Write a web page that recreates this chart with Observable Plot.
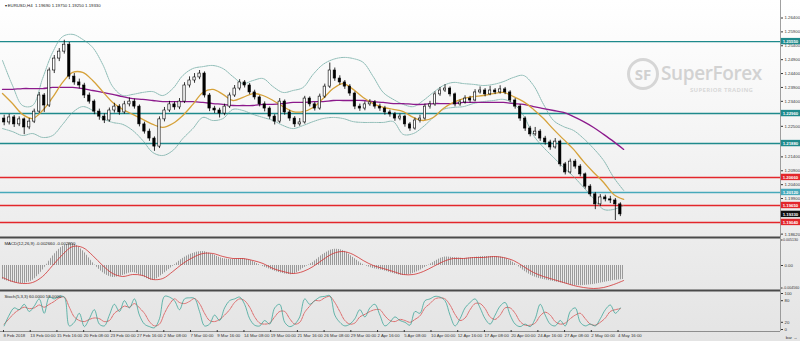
<!DOCTYPE html>
<html><head><meta charset="utf-8">
<script src="https://cdn.jsdelivr.net/npm/d3@7"></script>
<script src="https://cdn.jsdelivr.net/npm/@observablehq/plot@0.6"></script>
<style>
html,body{margin:0;padding:0;}
body{width:800px;height:341px;overflow:hidden;background:linear-gradient(#ffffff 0%,#f3f3f3 45%,#e4e4e4 100%);position:relative;font-family:"Liberation Sans",Arial,sans-serif;}
.abs{position:absolute;}
#main{left:0;top:0}
#macd{left:0;top:234px}
#stoch{left:0;top:291px}
#logo{left:627px;top:58px;width:26px;height:26px;border:3px solid #d6d6d6;border-radius:50%;color:#d0d0d0;font-weight:700;font-size:15px;line-height:26px;text-align:center;font-family:"Open Sans",sans-serif;}
#brand{left:661px;top:60px;color:#d2d2d2;font-size:19px;font-weight:600;font-family:"Open Sans",sans-serif;letter-spacing:-0.4px;}
#tag{left:690px;top:86px;color:#d8d8d8;font-size:6px;font-weight:700;font-family:"Open Sans",sans-serif;letter-spacing:0.3px;}
</style></head><body>
<div id="logo" class="abs">SF</div>
<div id="brand" class="abs">SuperForex</div>
<div id="tag" class="abs">SUPERIOR TRADING</div>
<div id="main" class="abs"></div>
<div id="macd" class="abs"></div>
<div id="stoch" class="abs"></div>
<script>
// ---------- DATA ----------
const firstOpen = 1.2278;
const candleClose = [1.2264,1.2282,1.2257,1.2275,1.2246,1.2267,1.2303,1.2361,1.2325,1.2451,
 1.2494,1.2519,1.2544,1.2429,1.2408,1.2397,1.2361,1.2339,1.2303,1.2285,
 1.2271,1.2307,1.2321,1.2300,1.2329,1.2339,1.2321,1.2257,1.2231,1.2206,
 1.2177,1.2275,1.2307,1.2329,1.2318,1.2339,1.2397,1.2415,1.2426,1.2440,
 1.2361,1.2314,1.2307,1.2296,1.2321,1.2361,1.2386,1.2408,1.2397,1.2372,
 1.2354,1.2329,1.2314,1.2285,1.2267,1.2339,1.2300,1.2278,1.2257,1.2264,
 1.2350,1.2329,1.2314,1.2357,1.2393,1.2451,1.2422,1.2408,1.2393,1.2368,
 1.2321,1.2314,1.2329,1.2336,1.2321,1.2314,1.2300,1.2293,1.2278,1.2285,
 1.2257,1.2242,1.2271,1.2278,1.2321,1.2329,1.2365,1.2379,1.2386,1.2365,
 1.2329,1.2336,1.2350,1.2343,1.2372,1.2379,1.2365,1.2379,1.2372,1.2383,
 1.2372,1.2343,1.2321,1.2278,1.2242,1.2221,1.2231,1.2206,1.2192,1.2174,
 1.2195,1.2113,1.2084,1.2123,1.2105,1.2077,1.2033,1.2005,1.1969,1.1994,
 1.1987,1.1983,1.1969,1.1933];
const candleHigh = [1.2290,1.2293,1.2289,1.2284,1.2280,1.2278,1.2312,1.2372,1.2368,1.2460,
 1.2505,1.2530,1.2560,1.2552,1.2440,1.2420,1.2405,1.2370,1.2345,1.2312,
 1.2295,1.2316,1.2333,1.2328,1.2340,1.2352,1.2348,1.2327,1.2265,1.2240,
 1.2212,1.2284,1.2318,1.2340,1.2337,1.2350,1.2407,1.2428,1.2440,1.2451,
 1.2446,1.2368,1.2322,1.2315,1.2330,1.2370,1.2397,1.2418,1.2415,1.2404,
 1.2380,1.2360,1.2338,1.2320,1.2292,1.2350,1.2345,1.2308,1.2285,1.2278,
 1.2358,1.2356,1.2336,1.2366,1.2402,1.2478,1.2460,1.2432,1.2415,1.2400,
 1.2374,1.2330,1.2338,1.2346,1.2343,1.2330,1.2322,1.2308,1.2300,1.2294,
 1.2290,1.2264,1.2280,1.2290,1.2330,1.2340,1.2374,1.2390,1.2400,1.2392,
 1.2370,1.2345,1.2360,1.2358,1.2382,1.2392,1.2386,1.2394,1.2386,1.2396,
 1.2390,1.2378,1.2350,1.2328,1.2284,1.2250,1.2246,1.2238,1.2214,1.2200,
 1.2206,1.2200,1.2120,1.2132,1.2130,1.2112,1.2082,1.2040,1.2012,1.2004,
 1.2002,1.1998,1.1990,1.1975];
const candleLow = [1.2252,1.2255,1.2246,1.2249,1.2220,1.2238,1.2260,1.2296,1.2300,1.2318,
 1.2440,1.2483,1.2510,1.2418,1.2398,1.2385,1.2350,1.2330,1.2292,1.2272,
 1.2260,1.2265,1.2298,1.2290,1.2294,1.2320,1.2312,1.2248,1.2222,1.2196,
 1.2160,1.2170,1.2266,1.2300,1.2308,1.2310,1.2332,1.2388,1.2405,1.2418,
 1.2352,1.2303,1.2296,1.2280,1.2288,1.2314,1.2354,1.2378,1.2388,1.2364,
 1.2345,1.2320,1.2302,1.2275,1.2255,1.2260,1.2290,1.2268,1.2246,1.2250,
 1.2258,1.2320,1.2305,1.2308,1.2350,1.2386,1.2412,1.2398,1.2383,1.2358,
 1.2310,1.2304,1.2306,1.2322,1.2312,1.2304,1.2290,1.2283,1.2268,1.2270,
 1.2247,1.2232,1.2236,1.2262,1.2272,1.2312,1.2322,1.2358,1.2372,1.2356,
 1.2320,1.2322,1.2330,1.2334,1.2338,1.2366,1.2356,1.2360,1.2364,1.2366,
 1.2364,1.2335,1.2312,1.2268,1.2232,1.2212,1.2214,1.2196,1.2182,1.2164,
 1.2168,1.2104,1.2075,1.2078,1.2096,1.2068,1.2024,1.1996,1.1950,1.1962,
 1.1978,1.1972,1.1911,1.1925];

// indicator lines, one value every 6 bars (bar 0, 6, 12, ...)
const maFast = [1.2368,1.2332,1.2293,1.2278,1.2307,1.2354,1.2408,1.2444,1.2444,1.2415,
 1.2375,1.2336,1.2311,1.2293,1.2275,1.2257,1.2246,1.2260,1.2289,1.2329,
 1.2372,1.2383,1.2365,1.2343,1.2354,1.2368,1.2361,1.2343,1.2321,1.2303,
 1.2303,1.2318,1.2350,1.2386,1.2404,1.2383,1.2354,1.2332,1.2318,1.2311,
 1.2303,1.2282,1.2271,1.2282,1.2314,1.2336,1.2350,1.2357,1.2361,1.2368,
 1.2372,1.2357,1.2339,1.2311,1.2278,1.2239,1.2203,1.2167,1.2123,1.2084,
 1.2048,1.2005,1.1987];
const maSlow = [1.2383,1.2383,1.2386,1.2386,1.2386,1.2390,1.2390,1.2390,1.2386,1.2379,
 1.2372,1.2365,1.2357,1.2350,1.2347,1.2343,1.2339,1.2339,1.2339,1.2339,
 1.2336,1.2332,1.2329,1.2325,1.2325,1.2325,1.2329,1.2329,1.2332,1.2336,
 1.2336,1.2339,1.2339,1.2343,1.2343,1.2343,1.2343,1.2339,1.2336,1.2332,
 1.2332,1.2329,1.2329,1.2332,1.2332,1.2332,1.2336,1.2336,1.2336,1.2336,
 1.2336,1.2332,1.2329,1.2321,1.2314,1.2307,1.2300,1.2285,1.2267,1.2246,
 1.2221,1.2195,1.2167];
const bbUpper = [1.2487,1.2397,1.2325,1.2325,1.2422,1.2516,1.2573,1.2581,1.2563,1.2534,
 1.2473,1.2393,1.2361,1.2365,1.2372,1.2375,1.2361,1.2386,1.2433,1.2458,
 1.2465,1.2469,1.2458,1.2429,1.2404,1.2415,1.2422,1.2393,1.2372,1.2379,
 1.2390,1.2437,1.2473,1.2491,1.2498,1.2494,1.2480,1.2429,1.2372,1.2347,
 1.2329,1.2321,1.2343,1.2372,1.2397,1.2408,1.2404,1.2401,1.2397,1.2401,
 1.2411,1.2426,1.2433,1.2397,1.2329,1.2271,1.2249,1.2235,1.2206,1.2170,
 1.2127,1.2066,1.2019];
const bbLower = [1.2242,1.2231,1.2217,1.2224,1.2210,1.2217,1.2257,1.2300,1.2321,1.2307,
 1.2278,1.2264,1.2257,1.2235,1.2199,1.2156,1.2145,1.2163,1.2206,1.2242,
 1.2282,1.2271,1.2278,1.2311,1.2307,1.2293,1.2282,1.2271,1.2253,1.2242,
 1.2253,1.2267,1.2278,1.2282,1.2278,1.2267,1.2264,1.2264,1.2264,1.2267,
 1.2221,1.2224,1.2249,1.2282,1.2311,1.2318,1.2321,1.2332,1.2339,1.2343,
 1.2347,1.2332,1.2289,1.2217,1.2174,1.2138,1.2102,1.2069,1.2030,1.1990,
 1.1951,1.1951,1.1965];
const macdMain = [-0.00266,-0.00323,-0.00342,-0.00285,-0.00095,0.00171,0.00361,0.00418,0.00285,0.00057,
 -0.00133,-0.00228,-0.00190,-0.00133,-0.00209,-0.00285,-0.00171,-0.00019,0.00133,0.00228,
 0.00266,0.00209,0.00133,0.00114,0.00133,0.00076,-0.00019,-0.00095,-0.00152,-0.00171,
 -0.00057,0.00057,0.00209,0.00304,0.00285,0.00152,0.00019,-0.00057,-0.00095,-0.00152,
 -0.00190,-0.00152,-0.00057,0.00057,0.00152,0.00152,0.00133,0.00152,0.00171,0.00171,
 0.00152,0.00057,-0.00095,-0.00209,-0.00266,-0.00304,-0.00342,-0.00380,-0.00380,-0.00361,
 -0.00323,-0.00285,-0.00266];
const macdSignal = [-0.00228,-0.00304,-0.00342,-0.00323,-0.00209,0.00000,0.00209,0.00361,0.00342,0.00190,
 0.00000,-0.00152,-0.00209,-0.00171,-0.00190,-0.00266,-0.00247,-0.00114,0.00038,0.00152,
 0.00228,0.00228,0.00171,0.00133,0.00133,0.00095,0.00038,-0.00057,-0.00114,-0.00152,
 -0.00114,-0.00019,0.00114,0.00228,0.00266,0.00209,0.00095,0.00000,-0.00057,-0.00114,
 -0.00171,-0.00171,-0.00114,-0.00019,0.00076,0.00133,0.00133,0.00152,0.00152,0.00171,
 0.00152,0.00095,-0.00019,-0.00133,-0.00209,-0.00266,-0.00323,-0.00380,-0.00418,-0.00437,
 -0.00418,-0.00361,-0.00285];
// stochastic, one value per candle
const stochMain = [10,40,60,55,70,50,65,85,45,90, 85,92,90,10,20,45,8,30,55,15,
 10,40,70,50,80,60,85,40,15,8, 5,30,92,90,80,55,85,88,86,50,
 10,15,40,25,60,80,85,90,70,30, 12,10,25,15,60,70,20,8,15,35,
 85,70,80,90,92,94,40,20,10,15, 30,55,35,60,70,40,10,20,35,25,
 20,12,50,45,80,85,92,90,80,40, 10,30,60,75,85,60,30,15,40,65,
 75,40,15,8,15,8,30,70,40,15, 10,25,10,50,60,20,10,15,10,30,
 55,68,45,60];
const stochSignal = [15,30,45,55,62,58,60,68,62,70, 78,88,90,62,35,25,22,28,32,30,
 22,25,45,55,65,62,72,60,45,22, 10,15,45,70,85,75,72,78,86,72,
 45,25,22,28,40,55,75,85,80,62, 35,18,15,18,35,50,50,30,15,20,
 48,65,80,80,88,92,75,50,25,15, 18,35,42,50,55,55,38,25,22,28,
 25,20,28,38,60,72,85,88,85,68, 42,25,32,55,72,72,58,35,28,40,
 60,60,45,22,12,12,18,38,48,40, 22,15,18,30,40,45,30,15,12,20,
 32,50,55,58];

const levelPrices = [1.2555,1.2296,1.2188,1.2066,1.2012,1.1965,1.1904];
const levelColors = ["#1f8a8c","#1f8a8c","#1f8a8c","#e3262b","#47a9ba","#e3262b","#e3262b"];
const priceTicks = [1.2640,1.2590,1.2540,1.2490,1.2440,1.2390,1.2340,1.2250,1.2140,1.2090,1.2040,1.1990,1.1862];
const macdTop = 0.00513, macdBottom = -0.00456;
const stochTicks = [0,20,80,100];
const timeTickBars = [0,16,32,48,64,80,96,112,128,144,160,176,192,208,224,240,256,272,288,304,320,336,352,368];
const timeTickLabels = ["8 Feb 2018","13 Feb 00:00","15 Feb 16:00","20 Feb 08:00","23 Feb 00:00","27 Feb 16:00","2 Mar 08:00","7 Mar 00:00","9 Mar 16:00","14 Mar 08:00","19 Mar 00:00","21 Mar 16:00","26 Mar 08:00","29 Mar 00:00","2 Apr 16:00","5 Apr 08:00","10 Apr 00:00","12 Apr 16:00","17 Apr 08:00","20 Apr 00:00","24 Apr 16:00","27 Apr 08:00","2 May 00:00","4 May 16:00"];
const titleMain = "\u25BE EURUSD,H4  1.19690 1.19750 1.19250 1.19330";
const titleMacd = "MACD(12,26,9) -0.002660 -0.002850";
const titleStoch = "Stoch(5,3,3) 60.0000 58.0000";

// ---------- TABLES ----------
const barsPerCandle = 3, barsPerLine = 6;
const candles = candleClose.map((c, i) => ({
  bar: i * barsPerCandle + 1,
  open: i ? candleClose[i - 1] : firstOpen,
  high: candleHigh[i], low: candleLow[i], close: c
}));
const lines = maFast.map((v, i) => ({bar: i * barsPerLine, fast: v, slow: maSlow[i], up: bbUpper[i], lo: bbLower[i], macd: macdMain[i], sig: macdSignal[i]}));
const stoch = stochMain.map((v, i) => ({bar: i * barsPerCandle + 1, main: v, sig: stochSignal[i]}));
const levels = levelPrices.map((p, i) => ({price: p, color: levelColors[i]}));
const last = candles[candles.length - 1];
const labelMap = new Map(timeTickBars.map((b, i) => [b, timeTickLabels[i]]));

const xDomain = [-1.2, 465.9];
const xEnd = xDomain[1];
const font = "Liberation Sans, Arial, sans-serif";
const style = {background: "transparent", fontFamily: font, fontSize: "4.3px", color: "#333", overflow: "visible"};
const boxH = 0.00115;

const main = Plot.plot({
  width: 800, height: 237, marginLeft: 0, marginRight: 20, marginTop: 8, marginBottom: 1,
  style,
  x: {domain: xDomain, axis: null},
  y: {domain: [1.18534, 1.26742], axis: "right", ticks: priceTicks, tickFormat: d => d.toFixed(5), tickSize: 2, tickPadding: 2},
  marks: [
    Plot.ruleY(levels, {y: "price", stroke: "color", strokeWidth: 1.4}),
    Plot.line(lines, {x: "bar", y: "up", stroke: "#5b9f96", strokeWidth: 0.7, strokeDasharray: "1.3,1", curve: "catmull-rom"}),
    Plot.line(lines, {x: "bar", y: "lo", stroke: "#5b9f96", strokeWidth: 0.7, strokeDasharray: "1.3,1", curve: "catmull-rom"}),
    Plot.line(lines, {x: "bar", y: "slow", stroke: "#8c1a8c", strokeWidth: 1.3, curve: "catmull-rom"}),
    Plot.line(lines, {x: "bar", y: "fast", stroke: "#d6a23a", strokeWidth: 1.3, curve: "catmull-rom"}),
    Plot.ruleX(candles, {x: "bar", y1: "low", y2: "high", stroke: "#000", strokeWidth: 0.8}),
    Plot.rect(candles, {x1: d => d.bar - 0.7, x2: d => d.bar + 0.7,
      y1: d => Math.min(d.open, d.close), y2: d => Math.max(d.open, d.close),
      fill: d => d.close > d.open ? "#ffffff" : "#000000", stroke: "#000", strokeWidth: 0.6}),
    Plot.ruleX([xEnd], {stroke: "#888", strokeWidth: 0.8, insetTop: -8, insetBottom: -1}),
    Plot.rect(levels, {x1: xEnd + 0.5, x2: xEnd + 12, y1: d => d.price - boxH, y2: d => d.price + boxH, fill: "color"}),
    Plot.text(levels, {x: xEnd + 1.3, y: "price", text: d => d.price.toFixed(5), fill: "#fff", textAnchor: "start", fontSize: 4.3, fontWeight: "bold"}),
    Plot.rect([last], {x1: xEnd + 0.5, x2: xEnd + 12, y1: d => d.close - boxH, y2: d => d.close + boxH, fill: "#111"}),
    Plot.text([last], {x: xEnd + 1.3, y: "close", text: d => d.close.toFixed(5), fill: "#fff", textAnchor: "start", fontSize: 4.3, fontWeight: "bold"}),
    Plot.text([titleMain], {frameAnchor: "top-left", text: d => d, dx: 4, dy: -5, fill: "#222", fontSize: 4.3})
  ]
});
document.getElementById("main").append(main);

// MACD panel: svg spans page y 234..291, value range 238..289
const macd = Plot.plot({
  width: 800, height: 57, marginLeft: 0, marginRight: 20, marginTop: 4, marginBottom: 2,
  style,
  x: {domain: xDomain, axis: null},
  y: {domain: [macdBottom, macdTop], axis: null},
  marks: [
    Plot.areaY(lines, {x: "bar", y: "macd", fill: "url(#hatch)", curve: "catmull-rom"}),
    Plot.line(lines, {x: "bar", y: "sig", stroke: "#d23232", strokeWidth: 0.8, curve: "catmull-rom"}),
    Plot.ruleY([macdTop], {stroke: "#4a4a4a", strokeWidth: 2, dy: -1}),
    Plot.ruleY([macdBottom], {stroke: "#4a4a4a", strokeWidth: 2, dy: 1}),
    Plot.ruleX([xEnd], {stroke: "#888", strokeWidth: 0.8, insetTop: -4, insetBottom: -2}),
    Plot.axisY([macdTop], {anchor: "right", tickFormat: d => d.toFixed(6), tickSize: 1.5, tickPadding: 1, dy: 1.5, fontSize: 3.6}),
    Plot.axisY([0], {anchor: "right", tickFormat: () => "0.00", tickSize: 2, tickPadding: 2, fontSize: 4.3}),
    Plot.axisY([macdBottom], {anchor: "right", tickFormat: d => d.toFixed(6), tickSize: 1.5, tickPadding: 1, dy: -1.5, fontSize: 3.6}),
    Plot.text([titleMacd], {frameAnchor: "top-left", text: d => d, dx: 4, dy: 3, fill: "#222", fontSize: 4.3})
  ]
});
d3.select(macd).insert("defs", ":first-child")
  .append("pattern").attr("id", "hatch").attr("width", 2).attr("height", 4).attr("patternUnits", "userSpaceOnUse")
  .append("rect").attr("width", 1).attr("height", 4).attr("fill", "#9a9a9a");
document.getElementById("macd").append(macd);

// Stochastic panel: svg spans page y 291..341, 100 at 293, 0 at 329
const st = Plot.plot({
  width: 800, height: 50, marginLeft: 0, marginRight: 20, marginTop: 2, marginBottom: 12,
  style,
  x: {domain: xDomain},
  y: {domain: [0, 100], axis: "right", ticks: stochTicks, tickSize: 2, tickPadding: 2},
  marks: [
    Plot.line(stoch, {x: "bar", y: "sig", stroke: "#d83a3a", strokeWidth: 0.7, strokeDasharray: "2,1", curve: "catmull-rom"}),
    Plot.line(stoch, {x: "bar", y: "main", stroke: "#2a9d8f", strokeWidth: 0.7, curve: "catmull-rom"}),
    Plot.ruleY([0], {stroke: "#777", strokeWidth: 0.8, dy: 2}),
    Plot.ruleX([xEnd], {stroke: "#888", strokeWidth: 0.8, insetTop: -2, insetBottom: -2}),
    Plot.axisX({ticks: timeTickBars, tickFormat: d => labelMap.get(d), textAnchor: "start", tickSize: 2, tickPadding: 1, dx: 1, fontSize: 4.3, dy: 1}),
    Plot.text([titleStoch], {frameAnchor: "top-left", text: d => d, dx: 4, dy: 1, fill: "#222", fontSize: 4.3})
  ]
});
document.getElementById("stoch").append(st);
</script>
</body></html>
